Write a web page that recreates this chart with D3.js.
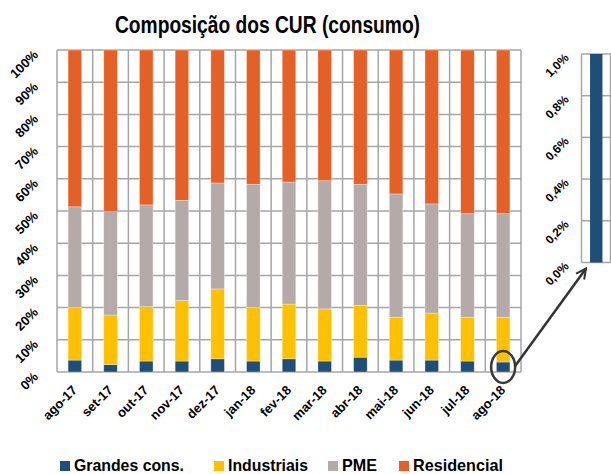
<!DOCTYPE html>
<html>
<head>
<meta charset="utf-8">
<script src="https://cdn.jsdelivr.net/npm/d3@7"></script>
<style>
  html, body { margin: 0; padding: 0; background: #fff; }
  svg { display: block; font-family: "Liberation Sans", Arial, sans-serif; }
</style>
</head>
<body>
<svg id="chart" width="611" height="474"></svg>
<script>
// Monthly composition of regulated-supply consumption, in % of total
const months = ["ago-17", "set-17", "out-17", "nov-17", "dez-17", "jan-18", "fev-18",
                "mar-18", "abr-18", "mai-18", "jun-18", "jul-18", "ago-18"];
const grandesCons = [3.7, 2.3, 3.4, 3.4, 4.1, 3.4, 4.1, 3.4, 4.6, 3.7, 3.7, 3.4, 3.1];
const industriais = [16.3, 15.4, 16.9, 18.8, 21.7, 16.6, 17.0, 16.2, 16.1, 13.3, 14.6, 13.6, 13.9];
const pme = [31.3, 32.1, 31.6, 31.1, 32.9, 38.3, 37.9, 39.8, 37.6, 38.3, 33.9, 32.2, 32.2];
const residencial = [48.7, 50.2, 48.1, 46.7, 41.3, 41.7, 41.0, 40.6, 41.7, 44.7, 47.8, 50.8, 50.8];

const seriesNames = ["Grandes cons.", "Industriais", "PME", "Residencial"];
const seriesColors = ["#1F4E79", "#FFC000", "#B3AAA9", "#E46026"];
const mainTicks = [0, 10, 20, 30, 40, 50, 60, 70, 80, 90, 100];
const zoomTicks = [0, 0.2, 0.4, 0.6, 0.8, 1.0];

const rows = months.map((m, i) => ({
  month: m,
  "Grandes cons.": grandesCons[i],
  "Industriais": industriais[i],
  "PME": pme[i],
  "Residencial": residencial[i]
}));

const svg = d3.select("#chart");
const gridColor = "#A6A6A6";
const color = d3.scaleOrdinal(seriesNames, seriesColors);
const labelFont = "'Liberation Sans', Arial, sans-serif";

// Title
svg.append("text")
  .attr("x", 115).attr("y", 33)
  .attr("font-size", 23).attr("font-weight", "bold").attr("fill", "#000")
  .attr("textLength", 305).attr("lengthAdjust", "spacingAndGlyphs")
  .text("Composição dos CUR (consumo)");

// ---- Main stacked chart ----
const plot = { left: 57, right: 521, top: 50, bottom: 372 };

const x = d3.scaleBand()
  .domain(months)
  .range([plot.left, plot.right])
  .paddingInner(0.62)
  .paddingOuter(0.31);

const y = d3.scaleLinear().domain([0, 100]).range([plot.bottom, plot.top]);

const grid = svg.append("g").attr("stroke", gridColor).attr("stroke-width", 1.5);
grid.selectAll("line.h").data(mainTicks).join("line")
  .attr("class", "h")
  .attr("x1", plot.left).attr("x2", plot.right)
  .attr("y1", d => y(d)).attr("y2", d => y(d));
const step = x.step();
grid.selectAll("line.v").data(d3.range(months.length + 1)).join("line")
  .attr("class", "v")
  .attr("x1", i => plot.left + i * step).attr("x2", i => plot.left + i * step)
  .attr("y1", plot.top).attr("y2", plot.bottom);

const stacked = d3.stack().keys(seriesNames)(rows);

svg.append("g").selectAll("g").data(stacked).join("g")
  .attr("fill", d => color(d.key))
  .selectAll("rect").data(d => d).join("rect")
  .attr("x", d => x(d.data.month))
  .attr("width", x.bandwidth())
  .attr("y", d => y(d[1]))
  .attr("height", d => y(d[0]) - y(d[1]))
  .attr("stroke", "#fff").attr("stroke-opacity", 0.45).attr("stroke-width", 0.7);

// Axes (labels only, rotated)
const yAxis = svg.append("g")
  .attr("transform", `translate(${plot.left},0)`)
  .call(d3.axisLeft(y).tickValues(mainTicks).tickSize(0).tickFormat(d => d + "%"));
yAxis.select(".domain").remove();
yAxis.selectAll("text")
  .attr("x", null).attr("dy", null)
  .attr("text-anchor", "end")
  .attr("transform", "translate(-18,5) rotate(-45)")
  .attr("font-size", 13).attr("font-weight", "bold").attr("fill", "#000")
  .attr("font-family", labelFont);

const xAxis = svg.append("g")
  .attr("transform", `translate(0,${plot.bottom})`)
  .call(d3.axisBottom(x).tickSize(0));
xAxis.select(".domain").remove();
xAxis.selectAll("text")
  .attr("y", null).attr("dy", null)
  .attr("text-anchor", "end")
  .attr("transform", "translate(3,19) rotate(-45)")
  .attr("font-size", 13).attr("font-weight", "bold").attr("fill", "#000")
  .attr("font-family", labelFont);

// ---- Zoomed view of the last month's large consumers ----
const inset = { left: 581.5, right: 611, top: 54, bottom: 262.5 };
const lastMonth = months[months.length - 1];
const lastGrandes = grandesCons[grandesCons.length - 1];

const xi = d3.scaleBand().domain([lastMonth])
  .range([inset.left, inset.right]).paddingInner(0.58).paddingOuter(0.29);
const yi = d3.scaleLinear().domain([0, 1.0]).range([inset.bottom, inset.top]).clamp(true);

const igrid = svg.append("g").attr("stroke", gridColor).attr("stroke-width", 1.5);
igrid.selectAll("line.h").data(zoomTicks).join("line")
  .attr("class", "h")
  .attr("x1", inset.left).attr("x2", inset.right)
  .attr("y1", d => yi(d)).attr("y2", d => yi(d));
igrid.selectAll("line.v").data([inset.left, inset.right - 0.5]).join("line")
  .attr("class", "v")
  .attr("x1", d => d).attr("x2", d => d)
  .attr("y1", inset.top).attr("y2", inset.bottom);

svg.append("rect")
  .attr("x", xi(lastMonth)).attr("width", xi.bandwidth())
  .attr("y", yi(lastGrandes)).attr("height", yi(0) - yi(lastGrandes))
  .attr("fill", color("Grandes cons."));

const yiAxis = svg.append("g")
  .attr("transform", `translate(${inset.left},0)`)
  .call(d3.axisLeft(yi).tickValues(zoomTicks).tickSize(0)
    .tickFormat(d => d3.format(".1f")(d).replace(".", ",") + "%"));
yiAxis.select(".domain").remove();
yiAxis.selectAll("text")
  .attr("x", null).attr("dy", null)
  .attr("text-anchor", "end")
  .attr("transform", "translate(-12,4) rotate(-45)")
  .attr("font-size", 12).attr("font-weight", "bold").attr("fill", "#000")
  .attr("font-family", labelFont);

// Highlight ellipse around the last month's large consumers, with arrow to the zoom
const cx = x(lastMonth) + x.bandwidth() / 2;
const cy = y(lastGrandes / 2);
svg.append("ellipse")
  .attr("cx", cx).attr("cy", cy).attr("rx", 12).attr("ry", 16)
  .attr("fill", "none").attr("stroke", "#3A3A3A").attr("stroke-width", 2.5);

svg.append("defs").append("marker")
  .attr("id", "arrowhead")
  .attr("viewBox", "0 0 10 10").attr("refX", 9).attr("refY", 5)
  .attr("markerWidth", 5).attr("markerHeight", 5)
  .attr("markerUnits", "strokeWidth")
  .attr("orient", "auto")
  .append("path")
  .attr("d", "M1,1 L9,5 L1,9")
  .attr("fill", "none").attr("stroke", "#333").attr("stroke-width", 1.6);

svg.append("line")
  .attr("x1", cx + 12).attr("y1", cy - 1)
  .attr("x2", inset.left + 4.5).attr("y2", inset.bottom + 6)
  .attr("stroke", "#333").attr("stroke-width", 2.5)
  .attr("marker-end", "url(#arrowhead)");

// ---- Legend ----
const legendItems = [
  { name: "Grandes cons.", x: 60, w: 110 },
  { name: "Industriais", x: 214, w: 80 },
  { name: "PME", x: 328, w: 35 },
  { name: "Residencial", x: 399, w: 90 }
];
const legend = svg.append("g");
legend.selectAll("rect").data(legendItems).join("rect")
  .attr("x", d => d.x).attr("y", 461).attr("width", 10).attr("height", 10)
  .attr("fill", d => color(d.name));
legend.selectAll("text").data(legendItems).join("text")
  .attr("x", d => d.x + 14).attr("y", 471)
  .attr("font-size", 17).attr("font-weight", "bold").attr("fill", "#000")
  .attr("textLength", d => d.w).attr("lengthAdjust", "spacingAndGlyphs")
  .text(d => d.name);
</script>
</body>
</html>
